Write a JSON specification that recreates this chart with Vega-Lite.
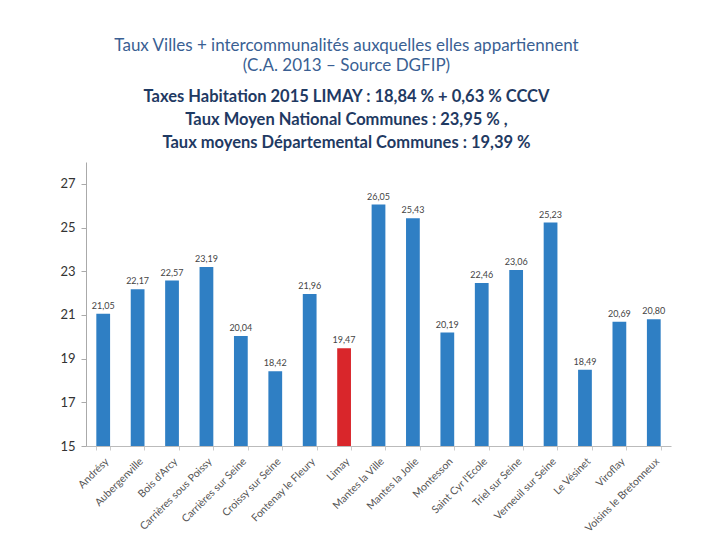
{
  "$schema": "https://vega.github.io/schema/vega-lite/v6.json",
  "width": 585,
  "height": 284,
  "padding": {"left": 59, "top": 36, "right": 5, "bottom": 5},
  "background": "white",
  "config": {
    "locale": {"number": {"decimal": ",", "thousands": " ", "grouping": [3], "currency": ["", " €"]}},
    "view": {"stroke": null},
    "font": "Lato"
  },
  "title": {
    "text": ["Taux Villes + intercommunalités auxquelles elles appartiennent", "(C.A. 2013 – Source DGFIP)"],
    "subtitle": ["Taxes Habitation 2015 LIMAY : 18,84 % + 0,63  % CCCV", "Taux Moyen National  Communes : 23,95 % ,", "Taux moyens Départemental Communes : 19,39 %"],
    "anchor": "middle",
    "frame": "group",
    "dx": -32,
    "font": "Lato",
    "fontSize": 17,
    "fontWeight": "normal",
    "color": "#3A5F93",
    "lineHeight": 20,
    "subtitleFont": "Lato",
    "subtitleFontSize": 16.5,
    "subtitleFontWeight": "bold",
    "subtitleColor": "#1F3A63",
    "subtitleLineHeight": 23,
    "subtitlePadding": 14,
    "offset": 10
  },
  "data": {
    "values": [
      {"ville": "Andrésy", "taux": 21.05},
      {"ville": "Aubergenville", "taux": 22.17},
      {"ville": "Bois d'Arcy", "taux": 22.57},
      {"ville": "Carrières sous Poissy", "taux": 23.19},
      {"ville": "Carrières sur Seine", "taux": 20.04},
      {"ville": "Croissy sur Seine", "taux": 18.42},
      {"ville": "Fontenay le Fleury", "taux": 21.96},
      {"ville": "Limay", "taux": 19.47},
      {"ville": "Mantes la Ville", "taux": 26.05},
      {"ville": "Mantes la Jolie", "taux": 25.43},
      {"ville": "Montesson", "taux": 20.19},
      {"ville": "Saint Cyr l'Ecole", "taux": 22.46},
      {"ville": "Triel sur Seine", "taux": 23.06},
      {"ville": "Verneuil sur Seine", "taux": 25.23},
      {"ville": "Le Vésinet", "taux": 18.49},
      {"ville": "Viroflay", "taux": 20.69},
      {"ville": "Voisins le Bretonneux", "taux": 20.80}
    ]
  },
  "encoding": {
    "x": {
      "field": "ville",
      "type": "nominal",
      "sort": null,
      "title": null,
      "scale": {"paddingInner": 0.6, "paddingOuter": 0.3},
      "axis": {
        "labelAngle": -45,
        "labelFontSize": 10.5,
        "labelColor": "#555555",
        "labelPadding": 6,
        "tickBand": "extent",
        "tickColor": "#cccccc",
        "tickSize": 4,
        "domainColor": "#bbbbbb"
      }
    },
    "y": {
      "field": "taux",
      "type": "quantitative",
      "title": null,
      "scale": {"domain": [15, 28], "nice": false, "zero": false},
      "axis": {
        "values": [15, 17, 19, 21, 23, 25, 27],
        "grid": false,
        "labelFontSize": 13,
        "labelColor": "#333333",
        "labelPadding": 6,
        "tickColor": "#aaaaaa",
        "tickSize": 5,
        "domainColor": "#aaaaaa"
      }
    }
  },
  "layer": [
    {
      "mark": {"type": "bar", "clip": true},
      "encoding": {
        "color": {
          "condition": {"test": "datum.ville === 'Limay'", "value": "#D9262B"},
          "value": "#2F7FC4"
        }
      }
    },
    {
      "mark": {"type": "text", "dy": -8, "fontSize": 9, "color": "#444444", "font": "Lato"},
      "encoding": {
        "text": {"field": "taux", "type": "quantitative", "format": ".2f"}
      }
    }
  ]
}
